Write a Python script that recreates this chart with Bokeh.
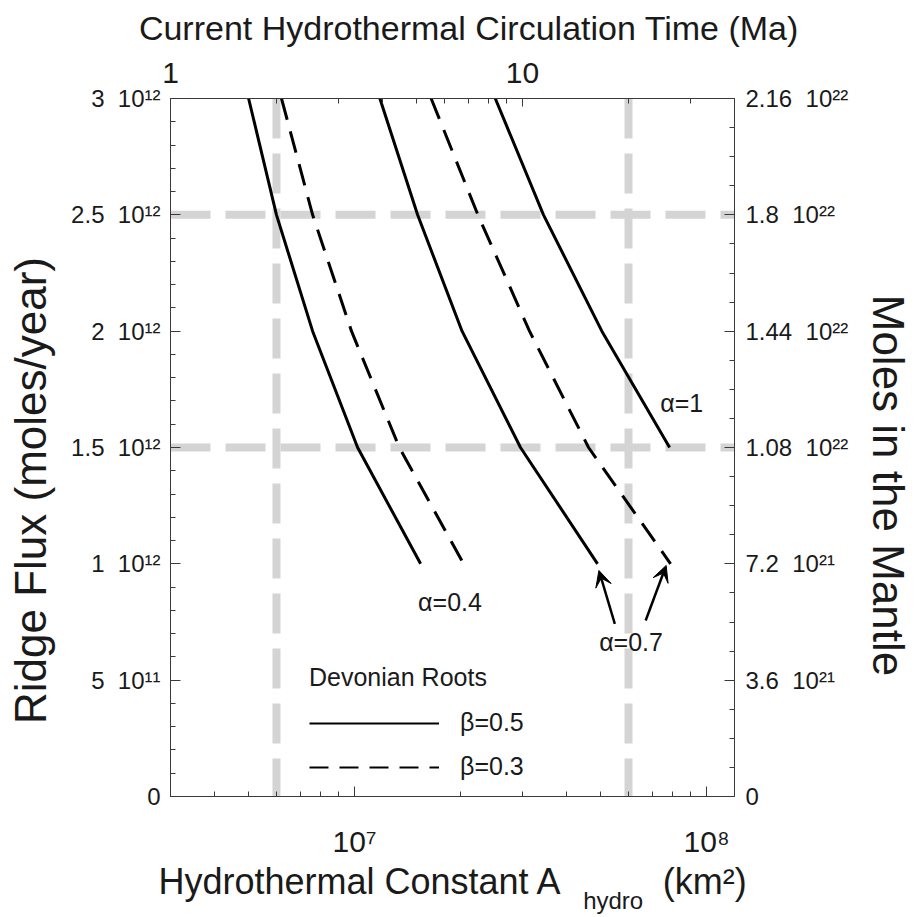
import math
from bokeh.plotting import figure
from bokeh.models import (Range1d, LogScale, LinearScale, LogAxis, LinearAxis, FixedTicker,
                          Span, Label, Arrow, VeeHead, Legend, LegendItem)
from bokeh.embed import file_html
from bokeh.resources import INLINE

# ---------------- data ----------------
flux_levels = [3.0e12, 2.5e12, 2.0e12, 1.5e12, 1.0e12]
a04_beta05 = [5.0e6, 6.0e6, 7.6e6, 1.02e7, 1.54e7]
a04_beta03 = [6.2e6, 7.6e6, 9.8e6, 1.34e7, 2.04e7]
a07_beta05 = [1.18e7, 1.51e7, 2.02e7, 2.96e7, 4.90e7]
a07_beta03 = [1.65e7, 2.24e7, 3.14e7, 4.62e7, 7.9e7]
flux_levels_a1 = [3.0e12, 2.5e12, 2.0e12, 1.5e12]
a10_beta05 = [2.51e7, 3.44e7, 5.04e7, 7.85e7]

ref_area = [6e6, 6e7]
ref_flux = [1.5e12, 2.5e12]

bottom_major = [1e7, 1e8]
bottom_minor = [4e6, 5e6, 6e6, 7e6, 8e6, 9e6, 2e7, 3e7, 4e7, 5e7, 6e7, 7e7, 8e7, 9e7]
bottom_labels = ["10\u2077", "10\u2078"]
top_major = [1, 10]
top_minor = [2, 3, 4, 5, 6, 7, 8, 9, 20, 30]
top_labels = ["1", "10"]
left_major = [0, 5e11, 1e12, 1.5e12, 2e12, 2.5e12, 3e12]
left_labels = ["0", "5  10\u00b9\u00b9", "1  10\u00b9\u00b2", "1.5  10\u00b9\u00b2",
               "2  10\u00b9\u00b2", "2.5  10\u00b9\u00b2", "3  10\u00b9\u00b2"]
right_major = [0, 3.6e21, 7.2e21, 1.08e22, 1.44e22, 1.8e22, 2.16e22]
right_labels = ["0", "3.6  10\u00b2\u00b9", "7.2  10\u00b2\u00b9", "1.08  10\u00b2\u00b2",
                "1.44  10\u00b2\u00b2", "1.8  10\u00b2\u00b2", "2.16  10\u00b2\u00b2"]

# ---------------- layout ----------------
W, H = 915, 917
FL, FR, FT, FB = 170, 737, 98, 796          # frame edges in canvas pixels
XMIN, XMAX = 3e6, 1.2e8
YMIN, YMAX = 0, 3e12
FONT = "Liberation Sans"
TXT = "#1a1a1a"
LINE = "#3a3a3a"


def px_x(px):
    return 10 ** (math.log10(XMIN) + (px - FL) / (FR - FL) * math.log10(XMAX / XMIN))


def px_y(py):
    return YMIN + (FB - py) / (FB - FT) * (YMAX - YMIN)


def nb(s):
    return s.replace("  ", "\u00a0\u00a0")


p = figure(width=W, height=H, x_axis_type="log", x_range=Range1d(XMIN, XMAX),
           y_range=Range1d(YMIN, YMAX), output_backend="svg", toolbar_location=None,
           x_axis_location=None, y_axis_location=None,
           min_border_left=FL, min_border_right=W - FR,
           min_border_top=FT, min_border_bottom=H - FB)
p.title.visible = False
p.grid.visible = False
p.outline_line_color = LINE
p.background_fill_color = "white"
p.border_fill_color = "white"

p.extra_x_ranges = {"time": Range1d(1, 40)}
p.extra_x_scales = {"time": LogScale()}
p.extra_y_ranges = {"moles": Range1d(0, 2.16e22)}
p.extra_y_scales = {"moles": LinearScale()}


def style(ax, size, major_in=10, minor_in=5, standoff=12):
    ax.axis_line_color = LINE
    ax.major_tick_line_color = LINE
    ax.minor_tick_line_color = LINE
    ax.major_tick_in = major_in
    ax.major_tick_out = 0
    ax.minor_tick_in = minor_in
    ax.minor_tick_out = 0
    ax.major_label_text_font = FONT
    ax.major_label_text_font_size = size
    ax.major_label_text_color = TXT
    ax.major_label_standoff = standoff


def text_axis(ax, size, standoff):
    ax.axis_line_color = None
    ax.major_tick_line_color = None
    ax.minor_tick_line_color = None
    ax.major_tick_in = 0
    ax.major_tick_out = 0
    ax.minor_tick_in = 0
    ax.minor_tick_out = 0
    ax.major_label_text_font = FONT
    ax.major_label_text_font_size = size
    ax.major_label_text_color = TXT
    ax.major_label_standoff = standoff


# bottom axis + title rows
bax = LogAxis(ticker=FixedTicker(ticks=bottom_major, minor_ticks=bottom_minor),
              major_label_overrides={v: t for v, t in zip(bottom_major, bottom_labels)})
style(bax, "30px", standoff=28)
p.add_layout(bax, "below")

t_main, t_unit = px_x(361), px_x(707)
b2 = LogAxis(ticker=FixedTicker(ticks=[t_main, t_unit], minor_ticks=[]),
             major_label_overrides={t_main: "Hydrothermal Constant A", t_unit: "(km\u00b2)"})
text_axis(b2, "36px", 0)
p.add_layout(b2, "below")

t_sub = px_x(615)
b3 = LogAxis(ticker=FixedTicker(ticks=[t_sub], minor_ticks=[]),
             major_label_overrides={t_sub: "hydro"})
text_axis(b3, "24px", -18)
p.add_layout(b3, "below")

# top axis + title row
tax = LogAxis(x_range_name="time", ticker=FixedTicker(ticks=top_major, minor_ticks=top_minor),
              major_label_overrides={v: t for v, t in zip(top_major, top_labels)})
style(tax, "30px", major_in=8, minor_in=5, standoff=16)
p.add_layout(tax, "above")

t_top = px_x(470)
ttl = LogAxis(ticker=FixedTicker(ticks=[t_top], minor_ticks=[]),
              major_label_overrides={t_top: "Current Hydrothermal Circulation Time (Ma)"})
text_axis(ttl, "34px", 13)
p.add_layout(ttl, "above")

# left axis + title row
lax = LinearAxis(ticker=FixedTicker(ticks=left_major,
                                    minor_ticks=[i * 1e11 for i in range(31)]),
                 major_label_overrides={v: nb(t) for v, t in zip(left_major, left_labels)})
style(lax, "24px", standoff=10)
p.add_layout(lax, "left")

t_left = px_y(490)
lt = LinearAxis(ticker=FixedTicker(ticks=[t_left], minor_ticks=[]),
                major_label_overrides={t_left: "Ridge Flux (moles/year)"},
                major_label_orientation="vertical")
text_axis(lt, "44px", 14)
p.add_layout(lt, "left")

# right axis + title row
rax = LinearAxis(y_range_name="moles",
                 ticker=FixedTicker(ticks=right_major, minor_ticks=[i * 0.9e21 for i in range(25)]),
                 major_label_overrides={v: nb(t) for v, t in zip(right_major, right_labels)})
style(rax, "24px", standoff=11)
p.add_layout(rax, "right")

t_right = px_y(485)
rt = LinearAxis(ticker=FixedTicker(ticks=[t_right], minor_ticks=[]),
                major_label_overrides={t_right: "Moles in the Mantle"},
                major_label_orientation="vertical")
text_axis(rt, "44px", 12)
p.add_layout(rt, "right")

# reference lines
for a in ref_area:
    p.add_layout(Span(location=a, dimension="height", line_color="#d4d4d4", line_width=8,
                      line_dash="40 15", level="underlay"))
for f in ref_flux:
    p.add_layout(Span(location=f, dimension="width", line_color="#d4d4d4", line_width=8,
                      line_dash="40 15", level="underlay"))

# curves
DASH = "22 12"
p.line(a04_beta05, flux_levels, line_color="black", line_width=3)
p.line(a04_beta03, flux_levels, line_color="black", line_width=3, line_dash=DASH)
p.line(a07_beta05, flux_levels, line_color="black", line_width=3)
p.line(a07_beta03, flux_levels, line_color="black", line_width=3, line_dash=DASH)
p.line(a10_beta05, flux_levels_a1, line_color="black", line_width=3)

# legend (sample renderers hold points outside the visible range)
leg_solid = p.line(x=[1e7, 2e7], y=[-1e12, -1e12], line_color="black", line_width=2)
leg_dash = p.line(x=[1e7, 2e7], y=[-1e12, -1e12], line_color="black", line_width=2,
                  line_dash="19 11")
legend = Legend(items=[LegendItem(label="\u03b2=0.5", renderers=[leg_solid]),
                       LegendItem(label="\u03b2=0.3", renderers=[leg_dash])],
                title="Devonian Roots", location=(139, 15),
                padding=0, margin=0, border_line_alpha=0, background_fill_alpha=0,
                glyph_width=130, glyph_height=28, label_height=28, label_standoff=21,
                spacing=15, label_text_font=FONT, label_text_font_size="25px",
                label_text_color=TXT, title_text_font=FONT, title_text_font_size="25px",
                title_text_font_style="normal", title_text_color=TXT, title_standoff=16)
p.add_layout(legend)

# curve labels
for txt, cx, cy in [("\u03b1=0.4", 451, 601), ("\u03b1=0.7", 633, 641), ("\u03b1=1", 684, 402)]:
    p.add_layout(Label(x=px_x(cx), y=px_y(cy), text=txt, text_font=FONT, text_font_size="25px",
                       text_color=TXT, text_align="center", text_baseline="middle"))

# arrows
for (x0, y0), (x1, y1) in [((616.7, 623.3), (600.7, 570)), ((647.7, 620), (668.3, 565))]:
    p.add_layout(Arrow(x_start=px_x(x0), y_start=px_y(y0), x_end=px_x(x1), y_end=px_y(y1),
                       line_width=2.5, line_color="black",
                       end=VeeHead(size=16, fill_color="black", line_color="black")))

open("out.html", "w").write(file_html(p, INLINE))
